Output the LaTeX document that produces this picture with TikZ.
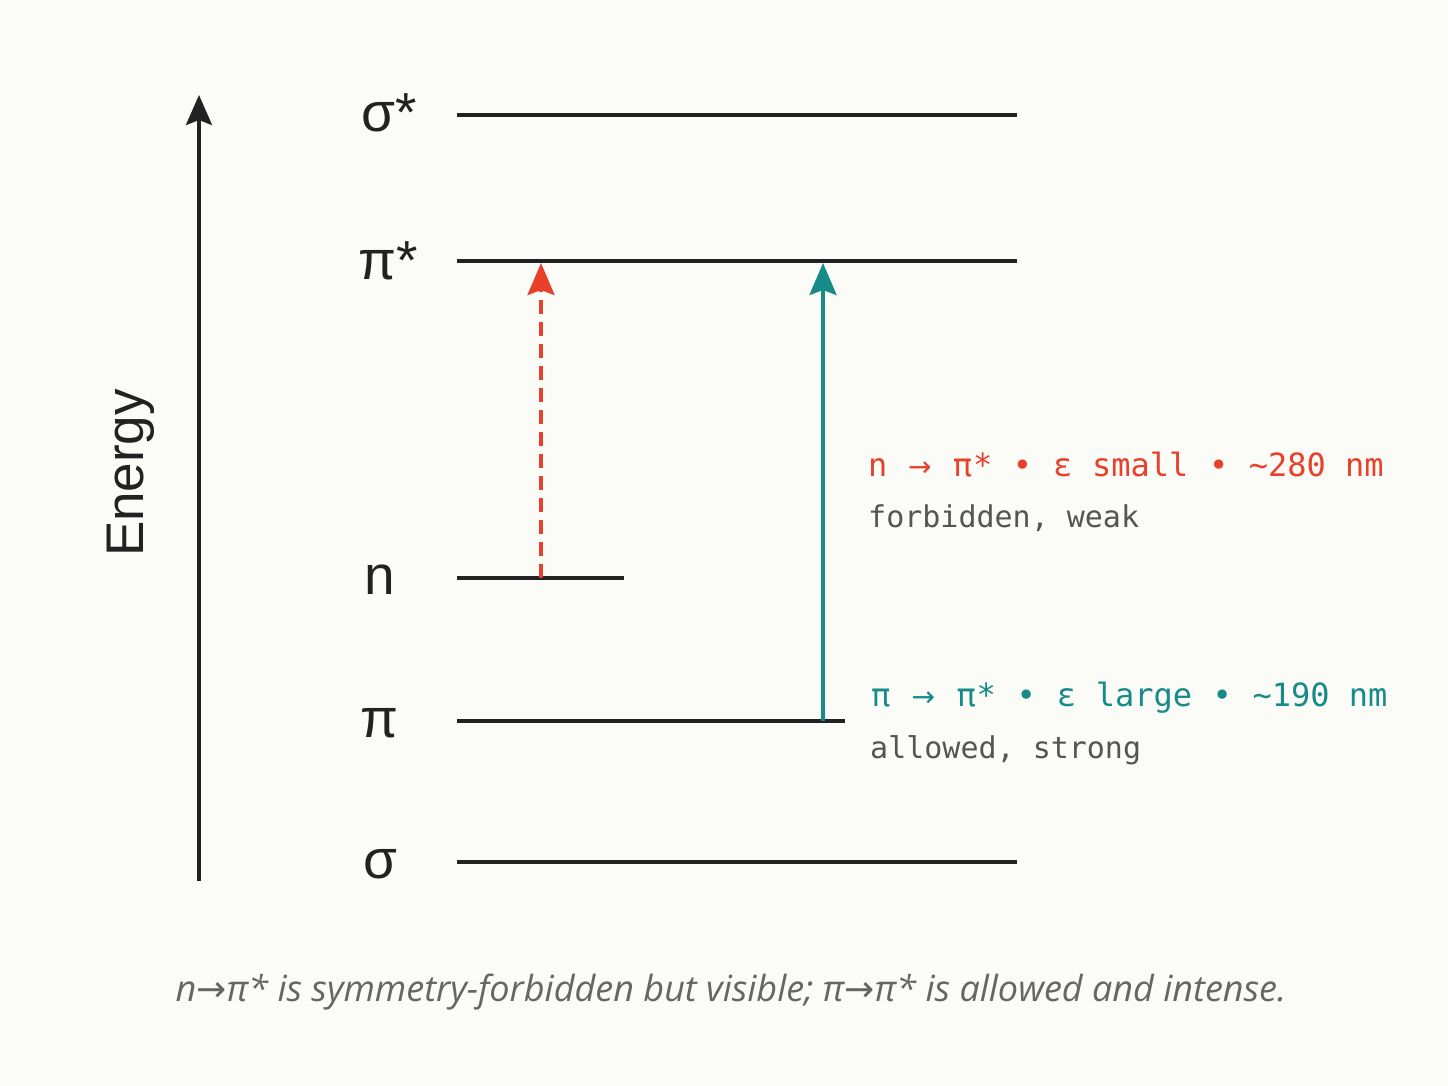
\documentclass[tikz,border=0pt]{standalone}
\usepackage{fontspec}
\setmainfont{Liberation Sans}
\newfontfamily\monofont{DejaVu Sans Mono}
\newfontfamily\capfont{Open Sans}
\newfontfamily\symfont{DejaVu Sans}
\usepackage{tikz}
\usetikzlibrary{arrows.meta, positioning}

\definecolor{paper}{HTML}{FBFBF8}
\definecolor{ink}{HTML}{222222}
\definecolor{nred}{HTML}{E8402A}
\definecolor{piteal}{HTML}{168B87}
\definecolor{notegray}{HTML}{555555}
\definecolor{capgray}{HTML}{666666}

% symbol cells for the mono headings
\newcommand{\cellarr}{\makebox[26pt]{\symfont\fontsize{28}{28}\selectfont →}}
\newcommand{\cellpi}{\makebox[21pt]{π}}
\newcommand{\celldot}{\makebox[22pt]{•}}
\newcommand{\celleps}{\makebox[20pt]{ε}}
\newcommand{\capar}{{\symfont\itshape →}}

\tikzset{
  orbital/.style={ink, line width=4pt},
  orblabel/.style={anchor=base, inner sep=0pt, text=ink, font=\fontsize{55}{55}\selectfont},
  transition/.style={line width=3.5pt, -{Stealth[length=32pt, width=27pt, inset=5pt]}},
  head/.style={anchor=base west, inner sep=0pt, font=\monofont\fontsize{32}{32}\selectfont},
  remark/.style={anchor=base west, inner sep=0pt, text=notegray, font=\monofont\fontsize{30}{30}\selectfont}
}

\begin{document}
\begin{tikzpicture}[x=1pt, y=-1pt]
		\fill[paper] (0,0) rectangle (1448,1086);
		\useasboundingbox (0,0) rectangle (1448,1086);
		
		% energy axis
		\coordinate (ebot) at (199,881);
		\coordinate (etop) at (199,95);
		\draw[ink, line width=3.5pt, -{Stealth[length=30pt, width=26pt, inset=5pt]}] (ebot) -- (etop);
		\node[rotate=90, text=ink, font=\fontsize{53}{53}\selectfont] (energy) at (131,473) {Energy};
		
		% levels
		\coordinate (sstarL) at (457,115);  \coordinate (sstarR) at (1017,115);
		\coordinate (pstarL) at (457,261);  \coordinate (pstarR) at (1017,261);
		\coordinate (nL) at (457,578);      \coordinate (nR) at (624,578);
		\coordinate (piL) at (457,721);     \coordinate (piR) at (845,721);
		\coordinate (sL) at (457,862);      \coordinate (sR) at (1017,862);
		\draw[orbital] (sstarL) -- (sstarR);
		\draw[orbital] (pstarL) -- (pstarR);
		\draw[orbital] (nL) -- (nR);
		\draw[orbital] (piL) -- (piR);
		\draw[orbital] (sL) -- (sR);
		
		\node[orblabel] (sstar) at (389,132) {σ*};
		\node[orblabel] (pstar) at (388,279) {π*};
		\node[orblabel] (nlab) at (380,594) {n};
		\node[orblabel] (pilab) at (379,737) {π};
		\node[orblabel] (slab) at (380,878) {σ};
		
		% transitions
		\coordinate (nfrom) at (541,578);  \coordinate (nto) at (541,263);
		\coordinate (pifrom) at (823,721); \coordinate (pito) at (823,263);
		\draw[transition, nred, dash pattern=on 14pt off 8pt] (nfrom) -- (nto);
		\draw[transition, piteal] (pifrom) -- (pito);
		
		\node[head, text=nred] (nhead) at (868,476)
		  {n \cellarr{} \cellpi*~\celldot{} \celleps{} small \celldot{} \textasciitilde280 nm};
		\node[remark] (nnote) at (868,527) {forbidden, weak};
		\node[head, text=piteal] (pihead) at (870,706)
		  {\cellpi{} \cellarr{} \cellpi*~\celldot{} \celleps{} large \celldot{} \textasciitilde190 nm};
		\node[remark] (pinote) at (870,758) {allowed, strong};
		
		\node[text=capgray, font=\capfont\itshape\fontsize{36}{36}\selectfont] (caption) at (731,992)
		  {n\capar π* is symmetry-forbidden but visible; π\capar π* is allowed and intense.};
	\end{tikzpicture}
\end{document}
